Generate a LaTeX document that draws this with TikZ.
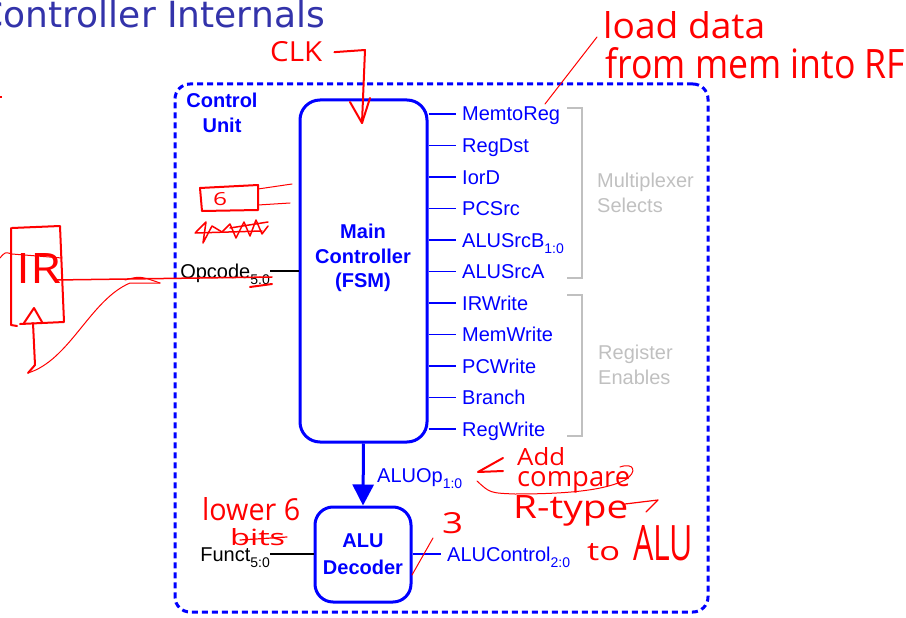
\documentclass[tikz,border=0pt]{standalone}
\usepackage{fontspec}
\setmainfont{Liberation Sans}
\newfontfamily\titlefont{DejaVu Sans}
\newfontfamily\handfont{Open Sans}
\usepackage{graphicx}
\usetikzlibrary{arrows.meta}
\definecolor{cublue}{RGB}{0,0,255}
\definecolor{titleblue}{RGB}{51,51,170}
\definecolor{bracketgray}{RGB}{192,192,192}
\definecolor{ink}{RGB}{255,0,0}
% lowered, smaller bit-range subscript
\newcommand\sub[1]{\raisebox{-6pt}{\fontsize{14}{14}\selectfont #1}}
% handwritten note squeezed into a given width and height
\newcommand\hw[3]{\resizebox{#1pt}{#2pt}{\handfont #3}}

\begin{document}
\begin{tikzpicture}[x=1pt,y=-1pt,
  sig/.style={font=\fontsize{20}{24}\selectfont, text=cublue, inner sep=0pt, text height=14pt, text depth=0pt},
  blk/.style={sig, text=black},
  boldtxt/.style={font=\fontsize{20}{24.5}\selectfont\bfseries, text=cublue, align=center, inner sep=0pt},
  graytxt/.style={font=\fontsize{20}{25}\selectfont, text=bracketgray, align=left, inner sep=0pt},
  unitbox/.style={draw=cublue, line width=3pt, rounded corners=20pt},
  stub/.style={draw=cublue, line width=1.3pt},
  wire/.style={line width=2.5pt},
  bracket/.style={draw=bracketgray, line width=2.5pt},
  hand/.style={inner sep=0pt, text=ink},
  pen/.style={draw=ink, line width=2pt, line cap=round, line join=round}
]
\useasboundingbox (0,0) rectangle (906,618);

% heading
\node[anchor=base east, inner sep=0pt, font=\titlefont\fontsize{36}{36}\selectfont, text=titleblue] (title) at (325,28) {Controller Internals};

% control unit outline
\node[draw=cublue, line width=3pt, dash pattern=on 6pt off 4pt, rounded corners=15pt,
      minimum width=533pt, minimum height=528pt, inner sep=0pt] (cu) at (441.5,348) {};
\node[boldtxt] (culbl) at (222,113) {Control\\Unit};

% main controller
\node[unitbox, minimum width=127pt, minimum height=342pt, inner sep=0pt] (main) at (363.5,271) {};
\node[boldtxt] (mainlbl) at (363,258) {Main\\Controller\\(FSM)};

% control outputs
\foreach \nm/\txt/\yy in {o1/MemtoReg/114, o2/RegDst/145.5, o3/IorD/177, o4/PCSrc/208.5,
    o5/{ALUSrcB\sub{1:0}}/240, o6/ALUSrcA/271.5, o7/IRWrite/303, o8/MemWrite/334.5,
    o9/PCWrite/366, o10/Branch/397.5, o11/RegWrite/429} {
  \node[sig, anchor=west] (\nm) at (462,\yy) {\txt};
  \draw[stub] (main.east |- \nm.west) -- ([xshift=-6pt]\nm.west);
}

% groupings
\draw[bracket] (567,108) -- (582,108) -- (582,278) -- (567,278);
\draw[bracket] (567,295) -- (582,295) -- (582,436) -- (567,436);
\node[graytxt, anchor=west] (muxlbl) at (597,193) {Multiplexer\\Selects};
\node[graytxt, anchor=west] (reglbl) at (598,365) {Register\\Enables};

% opcode input
\node[blk, anchor=east] (opcode) at (270,271) {Opcode\sub{5:0}};
\draw[wire, black] (opcode.east) -- (opcode.east -| main.west);

% ALU decoder
\node[unitbox, rounded corners=18pt, minimum width=96pt, minimum height=95pt, inner sep=0pt,
      font=\fontsize{20}{27}\selectfont\bfseries, text=cublue, align=center] (aludec) at (363,554.5) {ALU\\Decoder};
\draw[cublue, line width=3pt, -{Triangle[length=21pt,width=21pt]}] (main.south) -- (aludec.north);
\node[sig, anchor=west] (aluop) at (377,475) {ALUOp\sub{1:0}};

\node[blk, anchor=east] (funct) at (270,554) {Funct\sub{5:0}};
\draw[wire, black] (funct.east) -- (funct.east -| aludec.west);

\node[sig, anchor=west] (aluctl) at (447,554) {ALUControl\sub{2:0}};
\draw[wire, cublue] (aluctl.west -| aludec.east) -- ([xshift=-6pt]aluctl.west);

% ---- handwritten notes ----
\fill[ink] (0,96) rectangle (1.5,98);

% clock
\node[hand, anchor=base west] (clk) at (270,62) {\hw{52}{20}{CLK}};
\coordinate (clkin) at (362,123);
\draw[pen] ([xshift=12pt]clk.east) -- (365,50) -- (clkin);
\draw[pen] (350,102) -- (clkin) -- (370,98);

% memtoreg remark
\node[hand, anchor=base west] (load) at (603,38) {\hw{162}{27}{load data}};
\node[hand, anchor=base west] (frommem) at (605,78) {\hw{300}{31}{from mem into RF}};
\coordinate (memtip) at (545,104);
\draw[pen, line width=1pt] (597,37) -- (memtip);

% opcode width
\draw[pen] (200,188) -- (258,185) -- (258,210) -- (202,211) -- cycle;
\node[hand, anchor=base west] (six) at (213,205) {\hw{14}{13}{6}};
\draw[pen, line width=1pt] (258,189) -- (292,184);
\draw[pen, line width=1pt] (258,205) -- (290,203);
\draw[pen, line width=1.5pt] (196,232) -- (206,222) -- (203,243) -- (212,226) -- (222,232) -- (230,224)
  -- (236,238) -- (244,222) -- (250,236) -- (256,220) -- (262,234) -- (268,226);
\draw[pen, line width=1.5pt] (195,233) -- (262,231);
\draw[pen, line width=1.5pt] (230,228) -- (268,222);

% instruction register sketch
\draw[pen] (11,228) -- (11,325) -- (17,326);
\draw[pen] (12,228) -- (60,226) -- (64,322) -- (20,324);
\node[hand, anchor=base west] (irtxt) at (16,283) {\hw{45}{30}{IR}};
\draw[pen, line width=1pt] (0,258) .. controls (5,252) .. (12,254) -- (62,258);
\draw[pen] (24,323) -- (34,308) -- (42,322);
\draw[pen] (33,323) -- (35,365) -- (28,373);
\draw[pen, line width=1pt] (28,373) .. controls (70,360) and (90,300) .. (130,283) -- (160,283);
\draw[pen, line width=1.5pt] (55,280) -- (272,277);
\draw[pen, line width=1pt] (125,280) .. controls (140,276) .. (160,283);
\draw[pen] (250,287) -- (272,284);

% funct remark
\node[hand, anchor=base west] (lower) at (202,520) {\hw{98}{23}{lower 6}};
\node[hand, anchor=base west] (bits) at (230,545) {\hw{55}{17}{bits}};
\draw[pen, line width=1.2pt] (240,540) -- (287,537);

% ALU control width
\node[hand, anchor=base west] (three) at (442,533) {\hw{21}{21}{3}};
\draw[pen, line width=1pt] (412,575) -- (433,538);

% ALUOp remark
\draw[pen] (503,458) -- (478,472) -- (503,471);
\node[hand, anchor=base west] (add) at (517,465) {\hw{48}{18}{Add}};
\node[hand, anchor=base west] (compare) at (517,486) {\hw{113}{15}{compare}};
\draw[pen, line width=1pt] (477,481) .. controls (490,493) .. (515,494)
  .. controls (570,494) and (605,490) .. (625,480) .. controls (638,472) and (634,462) .. (620,467);
\node[hand, anchor=base west] (rtype) at (513,518) {\hw{115}{23}{R-type}};
\draw[pen, line width=1.2pt] (625,504) -- (658,500) -- (646,512);

\node[hand, anchor=base west] (to) at (587,560) {\hw{33}{17}{to}};
\node[hand, anchor=base west] (alu) at (633,560) {\hw{60}{35}{ALU}};
\end{tikzpicture}
\end{document}
